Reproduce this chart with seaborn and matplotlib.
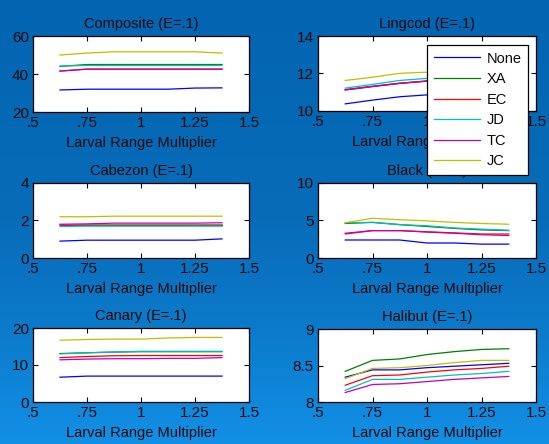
import numpy as np
import pandas as pd
import matplotlib
matplotlib.use("Agg")
import matplotlib.pyplot as plt
import seaborn as sns
from matplotlib.colors import LinearSegmentedColormap
from matplotlib.lines import Line2D

# ---- data ----
x_vals = [0.625, 0.75, 0.875, 1.0, 1.125, 1.25, 1.375]
series = ["None", "XA", "EC", "JD", "TC", "JC"]
colors = ["#0000ff", "#008000", "#ff0000", "#00bfbf", "#bf00bf", "#bfbf00"]

composite = {
    "None": [31.6, 32.0, 32.0, 32.0, 32.0, 32.6, 32.7],
    "XA":   [44.0, 45.0, 45.0, 45.0, 45.0, 45.0, 45.0],
    "EC":   [41.5, 42.6, 42.6, 42.6, 42.6, 42.6, 42.6],
    "JD":   [44.2, 44.5, 44.5, 44.5, 44.5, 44.5, 44.5],
    "TC":   [41.6, 42.5, 42.5, 42.5, 42.5, 42.5, 42.5],
    "JC":   [50.0, 51.0, 51.7, 51.7, 51.7, 51.7, 51.0],
}
lingcod = {
    "None": [10.38, 10.58, 10.76, 10.86, 10.94, 11.0, 11.05],
    "XA":   [11.14, 11.32, 11.48, 11.60, 11.70, 11.77, 11.82],
    "EC":   [11.12, 11.30, 11.47, 11.59, 11.69, 11.76, 11.81],
    "JD":   [11.22, 11.42, 11.63, 11.74, 11.84, 11.90, 11.95],
    "TC":   [11.13, 11.31, 11.48, 11.60, 11.70, 11.77, 11.82],
    "JC":   [11.63, 11.80, 12.01, 12.07, 12.12, 12.16, 12.20],
}
cabezon = {
    "None": [0.90, 0.95, 0.95, 0.95, 0.95, 0.95, 1.02],
    "XA":   [1.75, 1.76, 1.76, 1.76, 1.76, 1.76, 1.76],
    "EC":   [1.78, 1.78, 1.78, 1.78, 1.78, 1.78, 1.78],
    "JD":   [1.68, 1.70, 1.70, 1.70, 1.70, 1.70, 1.70],
    "TC":   [1.80, 1.82, 1.86, 1.86, 1.86, 1.86, 1.88],
    "JC":   [2.20, 2.20, 2.23, 2.23, 2.23, 2.23, 2.23],
}
black = {
    "None": [2.4, 2.4, 2.4, 2.0, 2.0, 1.85, 1.85],
    "XA":   [4.6, 4.75, 4.45, 4.2, 3.95, 3.75, 3.65],
    "EC":   [3.2, 3.65, 3.65, 3.45, 3.3, 3.1, 3.0],
    "JD":   [4.7, 4.75, 4.45, 4.3, 4.0, 3.85, 3.7],
    "TC":   [3.3, 3.65, 3.65, 3.5, 3.35, 3.2, 3.2],
    "JC":   [4.7, 5.3, 5.1, 4.95, 4.75, 4.6, 4.5],
}
canary = {
    "None": [6.7, 7.0, 7.0, 7.0, 7.0, 7.0, 7.0],
    "XA":   [13.1, 13.3, 13.5, 13.6, 13.6, 13.6, 13.6],
    "EC":   [12.0, 12.3, 12.5, 12.55, 12.55, 12.55, 12.55],
    "JD":   [13.0, 13.3, 13.5, 13.7, 13.7, 13.7, 13.7],
    "TC":   [11.4, 11.6, 11.7, 11.7, 11.8, 11.8, 12.0],
    "JC":   [16.7, 16.9, 17.0, 17.0, 17.3, 17.45, 17.45],
}
halibut = {
    "None": [8.34, 8.44, 8.44, 8.47, 8.49, 8.51, 8.53],
    "XA":   [8.42, 8.57, 8.59, 8.65, 8.69, 8.72, 8.73],
    "EC":   [8.23, 8.36, 8.37, 8.41, 8.44, 8.46, 8.49],
    "JD":   [8.16, 8.31, 8.31, 8.34, 8.37, 8.39, 8.42],
    "TC":   [8.13, 8.24, 8.25, 8.28, 8.31, 8.33, 8.35],
    "JC":   [8.32, 8.46, 8.47, 8.50, 8.54, 8.57, 8.57],
}

panels = [
    ("Composite (E=.1)", composite, (20, 60), [20, 40, 60], ["20", "40", "60"]),
    ("Lingcod (E=.1)", lingcod, (10, 14), [10, 12, 14], ["10", "12", "14"]),
    ("Cabezon (E=.1)", cabezon, (0, 4), [0, 2, 4], ["0", "2", "4"]),
    ("Black (E=.1)", black, (0, 10), [0, 5, 10], ["0", "5", "10"]),
    ("Canary (E=.1)", canary, (0, 20), [0, 10, 20], ["0", "10", "20"]),
    ("Halibut (E=.1)", halibut, (8, 9), [8, 8.5, 9], ["8", "8.5", "9"]),
]
x_ticks = [0.5, 0.75, 1.0, 1.25, 1.5]
x_ticklabels = [".5", ".75", "1", "1.25", "1.5"]
xlabel = "Larval Range Multiplier"

# ---- figure ----
W, H = 549, 444
plt.rcParams["font.family"] = ["Liberation Sans", "DejaVu Sans"]
fig = plt.figure(figsize=(W / 100, H / 100), dpi=100)

# background gradient
bg = fig.add_axes([0, 0, 1, 1], zorder=-10)
cmap = LinearSegmentedColormap.from_list(
    "bg", [(0.0, "#0365B2"), (0.5, "#086CB9"), (0.75, "#0C7BCB"), (1.0, "#1290E6")])
grad = np.linspace(0, 1, 256).reshape(-1, 1)
bg.imshow(grad, aspect="auto", cmap=cmap, extent=[0, 1, 1, 0])
bg.set_axis_off()

# axes boxes in pixel coords (left, top, right, bottom)
boxes = [
    (33, 36, 249, 112), (318, 36, 536, 111),
    (33, 183, 249, 258), (318, 183, 536, 258),
    (33, 328, 249, 402), (318, 329, 536, 402),
]

txt = "#0a0a0a"
for (title, d, ylim, yt, ytl), (l, t, r, b) in zip(panels, boxes):
    ax = fig.add_axes([l / W, 1 - b / H, (r - l) / W, (b - t) / H])
    df = pd.DataFrame({
        "x": np.tile(x_vals, len(series)),
        "y": np.concatenate([d[s] for s in series]),
        "series": np.repeat(series, len(x_vals)),
    })
    sns.lineplot(data=df, x="x", y="y", hue="series", hue_order=series,
                 palette=colors, ax=ax, linewidth=0.9, legend=False)
    ax.set_facecolor("white")
    ax.set_xlim(0.5, 1.5)
    ax.set_ylim(*ylim)
    ax.set_xticks(x_ticks)
    ax.set_xticklabels(x_ticklabels)
    ax.set_yticks(yt)
    ax.set_yticklabels(ytl)
    ax.tick_params(direction="in", top=True, right=True, length=3.5, width=0.8,
                   labelsize=11, colors=txt, pad=3)
    for sp in ax.spines.values():
        sp.set_color("black")
        sp.set_linewidth(0.9)
    ax.set_title(title, fontsize=10.5, color=txt, pad=6)
    ax.set_xlabel(xlabel, fontsize=10.5, color=txt, labelpad=4)
    ax.set_ylabel("")

# legend
handles = [Line2D([0], [0], color=c, lw=0.9) for c in colors]
leg = fig.legend(handles, series, loc="upper left",
                 bbox_to_anchor=(427 / W, 1 - 45 / H), fontsize=10.5,
                 frameon=True, fancybox=False, shadow=False, handlelength=3.2,
                 handletextpad=0.45, labelspacing=0.45, borderpad=0.45,
                 borderaxespad=0)
leg.get_frame().set_edgecolor("black")
leg.get_frame().set_linewidth(0.9)
leg.get_frame().set_facecolor("white")
leg.get_frame().set_alpha(1)
for tx in leg.get_texts():
    tx.set_color(txt)

fig.savefig("out.png", dpi=100)
